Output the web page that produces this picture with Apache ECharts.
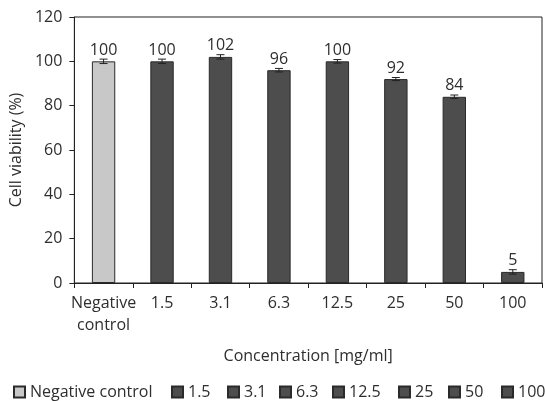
<!DOCTYPE html>
<html><head><meta charset="utf-8">
<script src="https://cdn.jsdelivr.net/npm/echarts@6/dist/echarts.min.js"></script>
<style>html,body{margin:0;padding:0;background:#fff}#c{width:545px;height:401px}</style>
</head><body><div id="c"></div>
<script>
var categories = ['Negative\ncontrol', '1.5', '3.1', '6.3', '12.5', '25', '50', '100'];
var seriesNames = ['Negative control', '1.5', '3.1', '6.3', '12.5', '25', '50', '100'];
var values = [100, 100, 102, 96, 100, 92, 84, 5];
var errors = [1, 1, 1, 0.8, 0.8, 0.7, 0.8, 1];
var yTicks = [0, 20, 40, 60, 80, 100, 120];

var FONT = '"Open Sans", "Noto Sans", sans-serif';
var TXT = '#2e2e2e';
var FS = 16;
var legendLeft = [13, 171, 227, 279, 332, 398, 448, 501];

var series = seriesNames.map(function (name, i) {
  return {
    name: name,
    type: 'bar',
    stack: 'all',
    barWidth: '40%',
    data: values.map(function (v, j) { return j === i ? v : '-'; }),
    itemStyle: { color: i === 0 ? '#c8c8c8' : '#4d4d4d', borderColor: '#2a2a2a', borderWidth: 1 },
    label: { show: true, position: 'top', distance: 3, color: TXT, fontSize: FS, fontFamily: FONT },
    emphasis: { disabled: true },
    animation: false
  };
});
series.push({
  type: 'custom',
  name: 'err',
  data: values.map(function (v, i) { return [i, v - errors[i], v + errors[i]]; }),
  renderItem: function (params, api) {
    var lo = api.coord([api.value(0), api.value(1)]);
    var hi = api.coord([api.value(0), api.value(2)]);
    var hw = 4;
    var st = { stroke: '#222', lineWidth: 1 };
    return { type: 'group', children: [
      { type: 'line', shape: { x1: lo[0], y1: lo[1], x2: hi[0], y2: hi[1] }, style: st },
      { type: 'line', shape: { x1: lo[0] - hw, y1: lo[1], x2: lo[0] + hw, y2: lo[1] }, style: st },
      { type: 'line', shape: { x1: hi[0] - hw, y1: hi[1], x2: hi[0] + hw, y2: hi[1] }, style: st }
    ]};
  },
  z: 10,
  silent: true,
  animation: false
});

var legends = seriesNames.map(function (name, i) {
  return {
    data: [name],
    left: legendLeft[i], top: 384, padding: 0,
    icon: 'rect', itemWidth: 11, itemHeight: 11,
    textStyle: { color: TXT, fontSize: FS, fontFamily: FONT }
  };
});

var chart = echarts.init(document.getElementById('c'), null, { renderer: 'canvas' });
chart.setOption({
  backgroundColor: '#fff',
  animation: false,
  textStyle: { fontFamily: FONT },
  grid: { left: 73, right: 3, top: 17, bottom: 118, show: true, borderColor: '#222', borderWidth: 1 },
  legend: legends,
  xAxis: {
    type: 'category',
    data: categories,
    name: 'Concentration [mg/ml]',
    nameLocation: 'middle',
    nameGap: 65,
    nameTextStyle: { color: TXT, fontSize: FS, fontFamily: FONT },
    axisLine: { lineStyle: { color: '#222' } },
    axisTick: { show: true, length: 5, lineStyle: { color: '#222' } },
    axisLabel: { color: TXT, fontSize: FS, fontFamily: FONT, margin: 9, lineHeight: 22, interval: 0 }
  },
  yAxis: {
    type: 'value',
    min: yTicks[0], max: yTicks[yTicks.length - 1], interval: 20,
    name: 'Cell viability (%)',
    nameLocation: 'middle',
    nameGap: 47,
    nameTextStyle: { color: TXT, fontSize: FS, fontFamily: FONT },
    axisLine: { show: true, lineStyle: { color: '#222' } },
    axisTick: { show: true, length: 5, lineStyle: { color: '#222' } },
    axisLabel: { color: TXT, fontSize: FS, fontFamily: FONT, margin: 12 },
    splitLine: { show: false }
  },
  series: series
});
</script></body></html>
